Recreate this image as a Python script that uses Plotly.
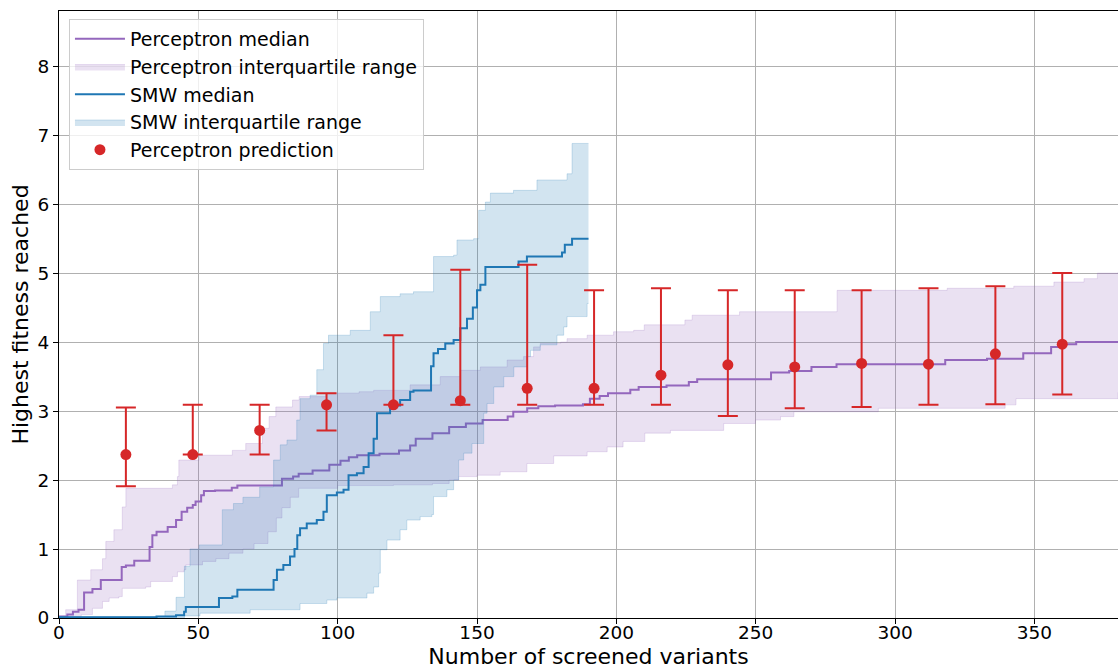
import plotly.graph_objects as go

# ---------------- data ----------------
# Perceptron median (step curve)
perc_med_x = [0, 3, 5, 7, 9, 12, 15, 22.5, 24, 27, 32.5, 33.5, 35, 39, 42, 44, 46, 48, 49, 51,
              52, 56, 62, 64, 80, 84, 86, 91, 97, 101, 104, 107, 115, 122, 126, 128, 134, 140, 146, 152,
              161, 163, 168, 172, 178, 188, 190.5, 194, 197, 205, 208, 218, 226, 229, 255.5, 262, 270, 279,
              318, 333, 346, 356, 361, 365, 380]
perc_med_y = [0.02, 0.05, 0.09, 0.12, 0.37, 0.42, 0.55, 0.74, 0.76, 0.83, 1.03, 1.2, 1.25, 1.32, 1.42,
              1.54, 1.6, 1.64, 1.69, 1.78, 1.84, 1.85, 1.89, 1.92, 2.02, 2.05, 2.09, 2.14, 2.22, 2.28,
              2.33, 2.36, 2.38, 2.43, 2.5, 2.6, 2.68, 2.77, 2.82, 2.87, 2.92, 2.99, 3.04, 3.07, 3.08,
              3.10, 3.18, 3.22, 3.26, 3.31, 3.35, 3.37, 3.42, 3.46, 3.56, 3.58, 3.64, 3.68, 3.74, 3.76,
              3.84, 3.93, 3.97, 4.0, 4.0]

# Perceptron upper quartile
perc_q3_x = [0, 2.4, 6.6, 11.4, 15.6, 16.8, 19.7, 22.7, 24, 40.7, 42.5, 43, 50.3, 62.2, 67, 73, 75.4,
             77.8, 83.8, 86.2, 95.8, 107.7, 112.9, 126, 136.8, 144, 151.2, 160.8, 166.7, 170.3, 172.7,
             180, 182.3, 189.5, 194.3, 199, 206.2, 210, 224.6, 227.2, 244.2, 279.2, 318.7, 342.6, 357,
             367.8, 372.6, 380]
perc_q3_y = [0.03, 0.12, 0.55, 0.70, 0.86, 1.11, 1.28, 1.61, 1.88, 1.93, 2.05, 2.29, 2.36, 2.43, 2.53,
             2.75, 2.92, 3.06, 3.16, 3.21, 3.26, 3.28, 3.30, 3.38, 3.50, 3.59, 3.64, 3.74, 3.79, 3.93,
             3.98, 4.0, 4.05, 4.10, 4.10, 4.15, 4.17, 4.25, 4.32, 4.39, 4.44, 4.75, 4.78, 4.81, 4.87,
             4.92, 5.0, 5.01]

# Perceptron lower quartile
perc_q1_x = [0, 3, 8, 12, 15.6, 18, 21.5, 22.7, 31.1, 32.9, 40.7, 42.5, 44.9, 45.5, 51.5, 56.3, 61, 66,
             70, 75, 78, 80, 83, 86, 100, 120, 134, 140, 143.4, 150, 158.3, 167.9, 177.5, 189.5, 196.7,
             202.4, 210.2, 219.4, 238.5, 249.9, 258.9, 263.7, 294, 339.5, 343.4, 380]
perc_q1_y = [0.0, 0.02, 0.05, 0.14, 0.24, 0.29, 0.31, 0.43, 0.45, 0.53, 0.60, 0.67, 0.70, 0.77, 0.82,
             0.86, 0.94, 1.0, 1.08, 1.25, 1.45, 1.6, 1.75, 1.88, 1.92, 1.93, 1.95, 2.0, 2.05, 2.07,
             2.12, 2.24, 2.35, 2.41, 2.48, 2.56, 2.68, 2.72, 2.82, 2.87, 2.92, 2.99, 3.04, 3.09, 3.18,
             3.27]

# SMW median
smw_med_x = [0, 35, 42, 44.9, 45.5, 57.4, 62.2, 64, 77, 78.2, 80.5, 82.9, 84.5, 85.5, 86.5, 88.9, 92.5,
             94.9, 96.1, 99.7, 102.1, 103.9, 106.9, 109.3, 111.1, 112.9, 114.1, 118.8, 122.4, 126, 127.2,
             133.5, 134.4, 136, 138.6, 141.6, 144, 146.4, 148.5, 150, 151.2, 153, 163.1, 164.9, 167.9,
             180.5, 181.5, 184.1, 190]
smw_med_y = [0.01, 0.02, 0.04, 0.09, 0.16, 0.29, 0.31, 0.41, 0.55, 0.70, 0.77, 0.89, 1.0, 1.2, 1.30,
             1.37, 1.42, 1.54, 1.78, 1.82, 1.86, 2.07, 2.10, 2.19, 2.39, 2.60, 2.97, 3.08, 3.16, 3.28,
             3.30, 3.65, 3.84, 3.90, 3.98, 4.03, 4.20, 4.34, 4.5, 4.75, 4.83, 5.09, 5.09, 5.17, 5.24,
             5.3, 5.41, 5.50, 5.50]

# SMW upper quartile
smw_q3_x = [0, 38, 42, 45, 47, 50.3, 58.6, 62.6, 66, 72, 77, 79.4, 81.8, 85.3, 86.5, 90.1, 92.5, 94.9,
            96.7, 104.5, 111.7, 115.3, 122.4, 127.2, 134.4, 141.6, 142.8, 148.8, 150.6, 153, 154.8,
            163.1, 171.5, 182.3, 184.1, 190]
smw_q3_y = [0.02, 0.1, 0.3, 0.75, 1.0, 1.06, 1.57, 1.66, 1.75, 1.9, 2.29, 2.51, 2.58, 2.87, 3.18, 3.23,
            3.6, 3.98, 4.10, 4.17, 4.44, 4.66, 4.70, 4.73, 5.24, 5.26, 5.48, 5.50, 5.91, 6.03, 6.16,
            6.20, 6.35, 6.44, 6.88, 6.88]

# SMW lower quartile
smw_q1_x = [0, 45, 50.6, 68.6, 86.5, 96.1, 99.7, 110.5, 112.9, 114.7, 115.3, 117.7, 122.4, 124.8, 129.6,
            133.8, 134.4, 139.2, 141.6, 143.4, 145.2, 148.2, 152.4, 153.6, 156, 159.6, 163.2, 167.9,
            169.2, 172.7, 178.7, 181.1, 182.3, 189.5, 190]
smw_q1_y = [0.0, 0.03, 0.07, 0.12, 0.21, 0.26, 0.29, 0.36, 0.45, 0.65, 0.99, 1.13, 1.28, 1.42, 1.47,
            1.5, 1.76, 1.86, 2.0, 2.29, 2.39, 2.53, 2.97, 3.11, 3.35, 3.50, 3.64, 3.79, 3.88, 3.96,
            4.10, 4.22, 4.37, 4.56, 4.56]

# Perceptron prediction with error bars
pred_x = [24, 48, 72, 96, 120, 144, 168, 192, 216, 240, 264, 288, 312, 336, 360]
pred_y = [2.37, 2.37, 2.72, 3.09, 3.09, 3.15, 3.33, 3.33, 3.52, 3.67, 3.64, 3.69, 3.68, 3.83, 3.97]
pred_low = [1.91, 2.37, 2.37, 2.72, 3.09, 3.09, 3.09, 3.09, 3.09, 2.93, 3.04, 3.06, 3.09, 3.10, 3.24]
pred_high = [3.05, 3.09, 3.09, 3.26, 4.10, 5.05, 5.12, 4.75, 4.78, 4.75, 4.75, 4.75, 4.78, 4.81, 5.0]

x_ticks = [0, 50, 100, 150, 200, 250, 300, 350]
y_ticks = [0, 1, 2, 3, 4, 5, 6, 7, 8]

# ---------------- styles ----------------
PURPLE = "#9467bd"
BLUE = "#1f77b4"
RED = "#d62728"
PURPLE_FILL = "rgba(148,103,189,0.2)"
BLUE_FILL = "rgba(31,119,180,0.2)"
FONT = "DejaVu Sans"

fig = go.Figure()

# Perceptron IQR band
fig.add_trace(go.Scatter(x=perc_q1_x, y=perc_q1_y, mode="lines", line=dict(color=PURPLE_FILL, width=1, shape="hv"),
                         showlegend=False, hoverinfo="skip", legendgroup="g2"))
fig.add_trace(go.Scatter(x=perc_q3_x, y=perc_q3_y, mode="lines", line=dict(color=PURPLE_FILL, width=1, shape="hv"),
                         fill="tonexty", fillcolor=PURPLE_FILL, name="Perceptron interquartile range",
                         legendgroup="g2", legendrank=2))
# Perceptron median
fig.add_trace(go.Scatter(x=perc_med_x, y=perc_med_y, mode="lines", line=dict(color=PURPLE, width=2, shape="hv"),
                         name="Perceptron median", legendgroup="g1", legendrank=1))
# SMW IQR band
fig.add_trace(go.Scatter(x=smw_q1_x, y=smw_q1_y, mode="lines", line=dict(color=BLUE_FILL, width=1, shape="hv"),
                         showlegend=False, hoverinfo="skip", legendgroup="g4"))
fig.add_trace(go.Scatter(x=smw_q3_x, y=smw_q3_y, mode="lines", line=dict(color=BLUE_FILL, width=1, shape="hv"),
                         fill="tonexty", fillcolor=BLUE_FILL, name="SMW interquartile range",
                         legendgroup="g4", legendrank=4))
# SMW median
fig.add_trace(go.Scatter(x=smw_med_x, y=smw_med_y, mode="lines", line=dict(color=BLUE, width=2, shape="hv"),
                         name="SMW median", legendgroup="g3", legendrank=3))
# Predictions
err_plus = [h - y for h, y in zip(pred_high, pred_y)]
err_minus = [y - l for y, l in zip(pred_y, pred_low)]
fig.add_trace(go.Scatter(x=pred_x, y=pred_y, mode="markers",
                         marker=dict(color=RED, size=11),
                         error_y=dict(type="data", symmetric=False, array=err_plus, arrayminus=err_minus,
                                      color=RED, thickness=2, width=10),
                         name="Perceptron prediction", legendgroup="g5", legendrank=5))

axis_common = dict(
    showgrid=True, gridcolor="#b0b0b0", gridwidth=1,
    showline=True, linecolor="black", linewidth=1.2, mirror=True,
    ticks="outside", ticklen=5, tickwidth=1, tickcolor="black",
    zeroline=False,
    tickfont=dict(family=FONT, size=18.5, color="black"),
    automargin=False,
)

fig.update_layout(
    width=1118, height=669,
    margin=dict(l=59, r=0, t=11, b=51),
    paper_bgcolor="white", plot_bgcolor="white",
    font=dict(family=FONT, color="black"),
    xaxis=dict(range=[0, 380], tickvals=x_ticks, ticklabelstandoff=-7,
               title=dict(text="Number of screened variants", font=dict(family=FONT, size=22), standoff=6),
               **axis_common),
    yaxis=dict(range=[0, 8.8], tickvals=y_ticks,
               title=dict(text="Highest fitness reached", font=dict(family=FONT, size=22), standoff=2),
               **axis_common),
    legend=dict(x=0.0094, y=0.9868, xanchor="left", yanchor="top",
                bgcolor="rgba(255,255,255,0.8)", bordercolor="#cccccc", borderwidth=1,
                font=dict(family=FONT, size=19, color="black"),
                traceorder="grouped", tracegroupgap=0, itemwidth=50),
    showlegend=True,
)

fig.write_html("out.html", config={"displayModeBar": False},
               post_script="document.body.style.margin='0';document.body.style.overflow='hidden';")
